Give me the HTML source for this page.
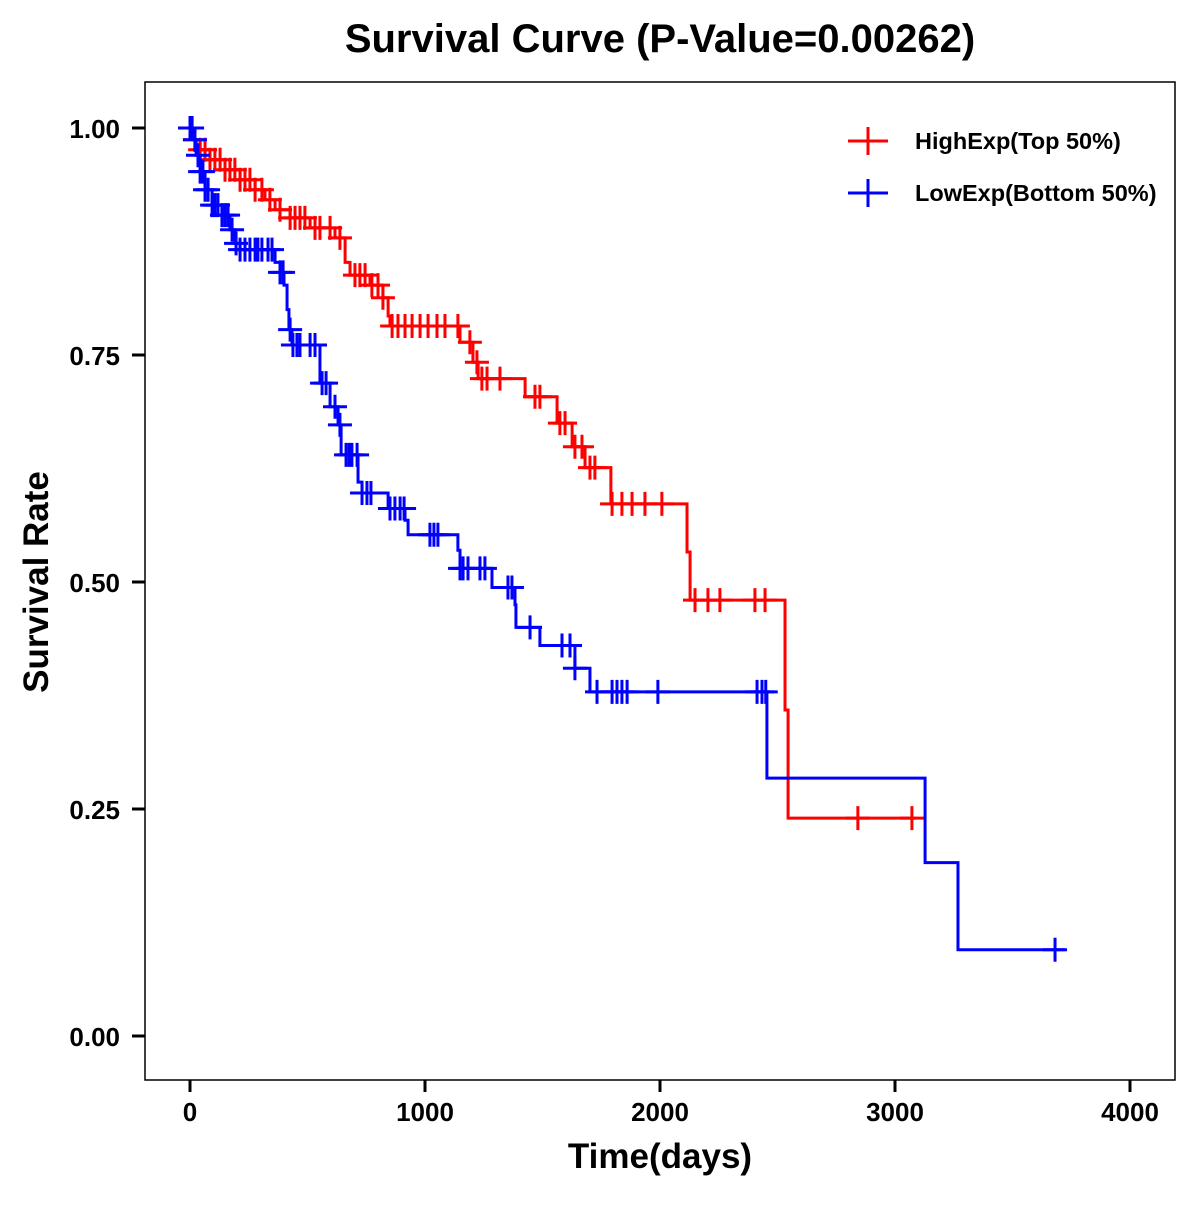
<!DOCTYPE html>
<html><head><meta charset="utf-8"><style>
html,body{margin:0;padding:0;background:#fff;}
svg text{font-family:"Liberation Sans",Arial,sans-serif;font-weight:bold;}
</style></head><body>
<svg id="chart" width="1200" height="1200" viewBox="0 0 1200 1200" xmlns="http://www.w3.org/2000/svg">
<text x="660" y="52" text-anchor="middle" font-size="40">Survival Curve (P-Value=0.00262)</text>
<rect x="145" y="82" width="1030" height="998" fill="none" stroke="#000" stroke-width="1.5"/>
<g id="xaxis"></g>
<g id="yaxis"></g>
<text x="660" y="1168" text-anchor="middle" font-size="35">Time(days)</text>
<text transform="translate(48,582) rotate(-90)" text-anchor="middle" font-size="35">Survival Rate</text>
<g id="series"></g>
<g>
  <g>
    <line x1="848" y1="141" x2="888" y2="141" stroke="#ff0000" stroke-width="3"/>
    <line x1="868" y1="127" x2="868" y2="155" stroke="#ff0000" stroke-width="3"/>
    <text x="915" y="149" font-size="23.5">HighExp(Top 50%)</text>
  </g>
  <g>
    <line x1="848" y1="193" x2="888" y2="193" stroke="#0000ff" stroke-width="3"/>
    <line x1="868" y1="179" x2="868" y2="207" stroke="#0000ff" stroke-width="3"/>
    <text x="915" y="201" font-size="23.5">LowExp(Bottom 50%)</text>
  </g>
</g>
</svg>
<script>
const xTicks=[0,1000,2000,3000,4000];
const yTicks=[0,0.25,0.5,0.75,1.0];
const yTickLabels=["0.00","0.25","0.50","0.75","1.00"];
const highTimes=[0,21,43,85,149,213,277,319,362,426,511,617,660,681,766,821,843,851,1149,1204,1226,1426,1562,1626,1681,1791,2115,2128,2532,2545];
const highSurv=[1.0,0.987,0.976,0.965,0.954,0.943,0.932,0.921,0.910,0.901,0.890,0.879,0.852,0.838,0.827,0.813,0.793,0.782,0.764,0.742,0.724,0.704,0.675,0.649,0.626,0.586,0.533,0.480,0.359,0.240];
const highEnd=3090;
const highCensor=[21,43,64,85,106,128,149,170,191,213,234,255,277,306,340,383,426,447,468,489,532,553,596,638,702,723,745,774,800,821,860,885,915,945,979,1013,1051,1085,1140,1191,1221,1242,1264,1319,1468,1489,1574,1596,1638,1668,1702,1723,1796,1838,1881,1936,2008,2149,2204,2255,2404,2447,2842,3072];
const lowTimes=[0,13,26,43,64,94,136,170,191,213,362,383,400,413,421,434,553,596,630,643,715,732,843,915,928,1140,1149,1285,1383,1387,1489,1638,1702,2455,3128,3268];
const lowSurv=[1.0,0.987,0.970,0.952,0.932,0.915,0.904,0.888,0.873,0.866,0.852,0.841,0.827,0.800,0.778,0.761,0.719,0.693,0.673,0.640,0.610,0.598,0.581,0.568,0.552,0.535,0.515,0.494,0.475,0.450,0.430,0.405,0.379,0.284,0.191,0.095];
const lowEnd=3723;
const lowCensor=[0,0,9,21,34,43,55,64,77,94,106,119,136,149,162,179,196,213,234,255,277,289,306,332,349,383,396,426,438,455,468,511,532,562,579,617,638,664,677,689,711,732,753,770,851,872,894,911,1021,1038,1055,1149,1162,1183,1234,1255,1353,1370,1447,1583,1617,1638,1732,1796,1817,1838,1860,1991,2413,2434,2450,3681];

const X=d=>190+d*0.235;
const Y=s=>1036-s*908;
const NS="http://www.w3.org/2000/svg";
function mk(tag,attrs,parent){const e=document.createElementNS(NS,tag);for(const k in attrs)e.setAttribute(k,attrs[k]);parent.appendChild(e);return e;}

const xa=document.getElementById('xaxis');
xTicks.forEach(t=>{
  const l=mk('line',{x1:X(t),x2:X(t),y1:1080,y2:1092,stroke:'#000','stroke-width':3},xa);
  
  
  const tx=mk('text',{x:X(t),y:1121,'text-anchor':'middle','font-size':26},xa);
  tx.textContent=t;
  
  
});
const ya=document.getElementById('yaxis');
yTicks.forEach((t,i)=>{
  const l=mk('line',{x1:132,x2:145,y1:Y(t),y2:Y(t),stroke:'#000','stroke-width':3},ya);
  
  
  const tx=mk('text',{x:120,y:Y(t)+10,'text-anchor':'end','font-size':26},ya);
  tx.textContent=yTickLabels[i];
  
  
});

function survAt(times,surv,t){let s=surv[0];for(let i=0;i<times.length;i++){if(times[i]<=t)s=surv[i];}return s;}
function drawSeries(times,surv,end,censor,color,name){
  const g=document.getElementById('series');
  let d='M'+X(times[0])+','+Y(surv[0]);
  for(let i=1;i<times.length;i++){d+=' H'+X(times[i])+' V'+Y(surv[i]);}
  d+=' H'+X(end);
  const p=mk('path',{d:d,fill:'none',stroke:color,'stroke-width':3},g);
  
  
  censor.forEach(c=>{
    const s=survAt(times,surv,c);
    const cx=X(c),cy=Y(s);
    const m=mk('path',{d:'M'+(cx-12)+','+cy+' H'+(cx+12)+' M'+cx+','+(cy-12)+' V'+(cy+12),stroke:color,'stroke-width':3,fill:'none'},g);
    
    
  });
}
drawSeries(highTimes,highSurv,highEnd,highCensor,'#ff0000','high-exp');
drawSeries(lowTimes,lowSurv,lowEnd,lowCensor,'#0000ff','low-exp');
</script>
</body></html>
